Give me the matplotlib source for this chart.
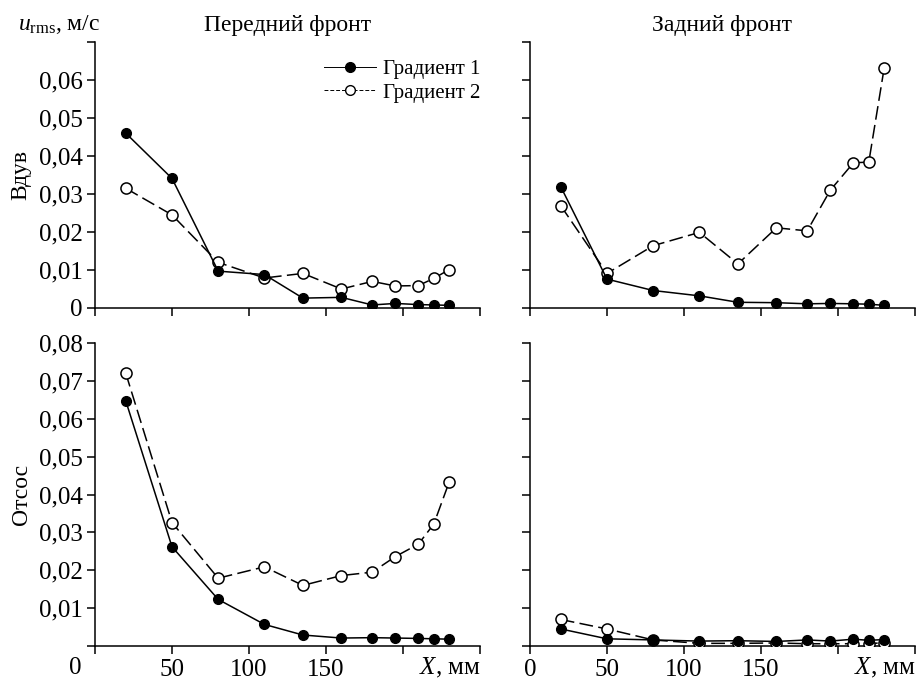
import matplotlib
matplotlib.use("Agg")
import matplotlib.pyplot as plt
from matplotlib.lines import Line2D

plt.rcParams['font.family'] = ['Liberation Serif', 'DejaVu Serif']
plt.rcParams['mathtext.fontset'] = 'custom'
plt.rcParams['mathtext.rm'] = 'Liberation Serif'
plt.rcParams['mathtext.it'] = 'Liberation Serif:italic'

x = [20, 50, 80, 110, 135, 160, 180, 195, 210, 220, 230]

blow_front_g1 = [0.0460, 0.0341, 0.0097, 0.0088, 0.0026, 0.0028, 0.0008, 0.0012, 0.0009, 0.0008, 0.0007]
blow_front_g2 = [0.0315, 0.0245, 0.0120, 0.0079, 0.0091, 0.0050, 0.0070, 0.0058, 0.0059, 0.0078, 0.0101]
blow_back_g1 = [0.0319, 0.0076, 0.0046, 0.0032, 0.0015, 0.0014, 0.0011, 0.0012, 0.0011, 0.0010, 0.0007]
blow_back_g2 = [0.0269, 0.0091, 0.0164, 0.0199, 0.0116, 0.0211, 0.0203, 0.0310, 0.0382, 0.0384, 0.0632]
suck_front_g1 = [0.0647, 0.0262, 0.0123, 0.0057, 0.0029, 0.0021, 0.0022, 0.0021, 0.0020, 0.0019, 0.0018]
suck_front_g2 = [0.0720, 0.0326, 0.0179, 0.0209, 0.0160, 0.0186, 0.0195, 0.0236, 0.0269, 0.0322, 0.0433]
suck_back_g1 = [0.0045, 0.0019, 0.0016, 0.0013, 0.0014, 0.0012, 0.0016, 0.0013, 0.0018, 0.0015, 0.0017]
suck_back_g2 = [0.0070, 0.0045, 0.0016, 0.0007, 0.0007, 0.0008, 0.0006, 0.0006, 0.0006, 0.0006, 0.0009]

series_names = ['Градиент 1', 'Градиент 2']
col_titles = ['Передний фронт', 'Задний фронт']
row_titles = ['Вдув', 'Отсос']
xticks = [0, 50, 100, 150, 200, 250]
yticks_top = [0, 0.01, 0.02, 0.03, 0.04, 0.05, 0.06, 0.07]
ylabels_top = ['0', '0,01', '0,02', '0,03', '0,04', '0,05', '0,06', '']
yticks_bot = [0, 0.01, 0.02, 0.03, 0.04, 0.05, 0.06, 0.07, 0.08]
ylabels_bot = ['', '0,01', '0,02', '0,03', '0,04', '0,05', '0,06', '0,07', '0,08']

W, H = 918, 681
fig = plt.figure(figsize=(W / 100, H / 100), dpi=100)

def px_axes(l, t, r, b):
    return fig.add_axes([l / W, 1 - b / H, (r - l) / W, (b - t) / H])

ax_tl = px_axes(95, 42, 480, 308)
ax_tr = px_axes(530, 42, 915, 308)
ax_bl = px_axes(95, 343, 480, 646)
ax_br = px_axes(530, 343, 915, 646)

FS = 18
data = {
    ax_tl: (blow_front_g1, blow_front_g2),
    ax_tr: (blow_back_g1, blow_back_g2),
    ax_bl: (suck_front_g1, suck_front_g2),
    ax_br: (suck_back_g1, suck_back_g2),
}

for ax, (g1, g2) in data.items():
    ax.plot(x, g2, color='black', lw=1.1, dashes=(9, 3.5), marker='o', ms=8,
            mfc='white', mec='black', mew=1.1, zorder=3)
    ax.plot(x, g1, color='black', lw=1.1, marker='o', ms=7,
            mfc='black', mec='black', zorder=4)
    ax.set_xlim(0, 250)
    ax.spines['top'].set_visible(False)
    ax.spines['right'].set_visible(False)
    ax.spines['left'].set_linewidth(1.1)
    ax.spines['bottom'].set_linewidth(1.1)
    ax.tick_params(direction='out', length=6, width=1.1, labelsize=FS, pad=3)
    ax.tick_params(axis='x', pad=3.5)
    ax.set_xticks(xticks)

for ax in (ax_tl, ax_tr):
    ax.set_ylim(0, 0.07)
    ax.set_yticks(yticks_top)
    ax.set_xticklabels([])
for ax in (ax_bl, ax_br):
    ax.set_ylim(0, 0.08)
    ax.set_yticks(yticks_bot)
ax_tl.set_yticklabels(ylabels_top)
ax_bl.set_yticklabels(ylabels_bot)
ax_tr.set_yticklabels([])
ax_br.set_yticklabels([])
ax_bl.set_xticklabels(['', '50', '100', '150', '', ''])
ax_br.set_xticklabels(['0', '50', '100', '150', '', ''])

def ftext(px, py, s, **kw):
    fig.text(px / W, 1 - py / H, s, **kw)

ftext(75, 668, '0', fontsize=FS, ha='center', va='center')
ftext(481, 668, '$X$, мм', fontsize=FS, ha='right', va='center')
ftext(916, 668, '$X$, мм', fontsize=FS, ha='right', va='center')
ftext(287.5, 25, col_titles[0], fontsize=17, ha='center', va='center')
ftext(722.5, 25, col_titles[1], fontsize=17, ha='center', va='center')
ftext(21, 175, row_titles[0], fontsize=17, ha='center', va='center', rotation=90)
ftext(21, 494, row_titles[1], fontsize=17, ha='center', va='center', rotation=90)
ftext(18, 25, r'$u_{\mathrm{rms}}$, м/с', fontsize=17, ha='left', va='center')

handles = [
    Line2D([], [], color='black', lw=0.7, marker='o', ms=7, mfc='black', mec='black'),
    Line2D([], [], color='black', lw=0.7, dashes=(4, 2), marker='o', ms=7, mfc='white', mec='black'),
]
ax_tl.legend(handles, series_names, loc='upper right', bbox_to_anchor=(1.0, 0.935),
             frameon=False, fontsize=15, handlelength=2.5, handletextpad=0.3,
             labelspacing=0.2, borderaxespad=0, borderpad=0)

fig.savefig('out.png', dpi=100)
